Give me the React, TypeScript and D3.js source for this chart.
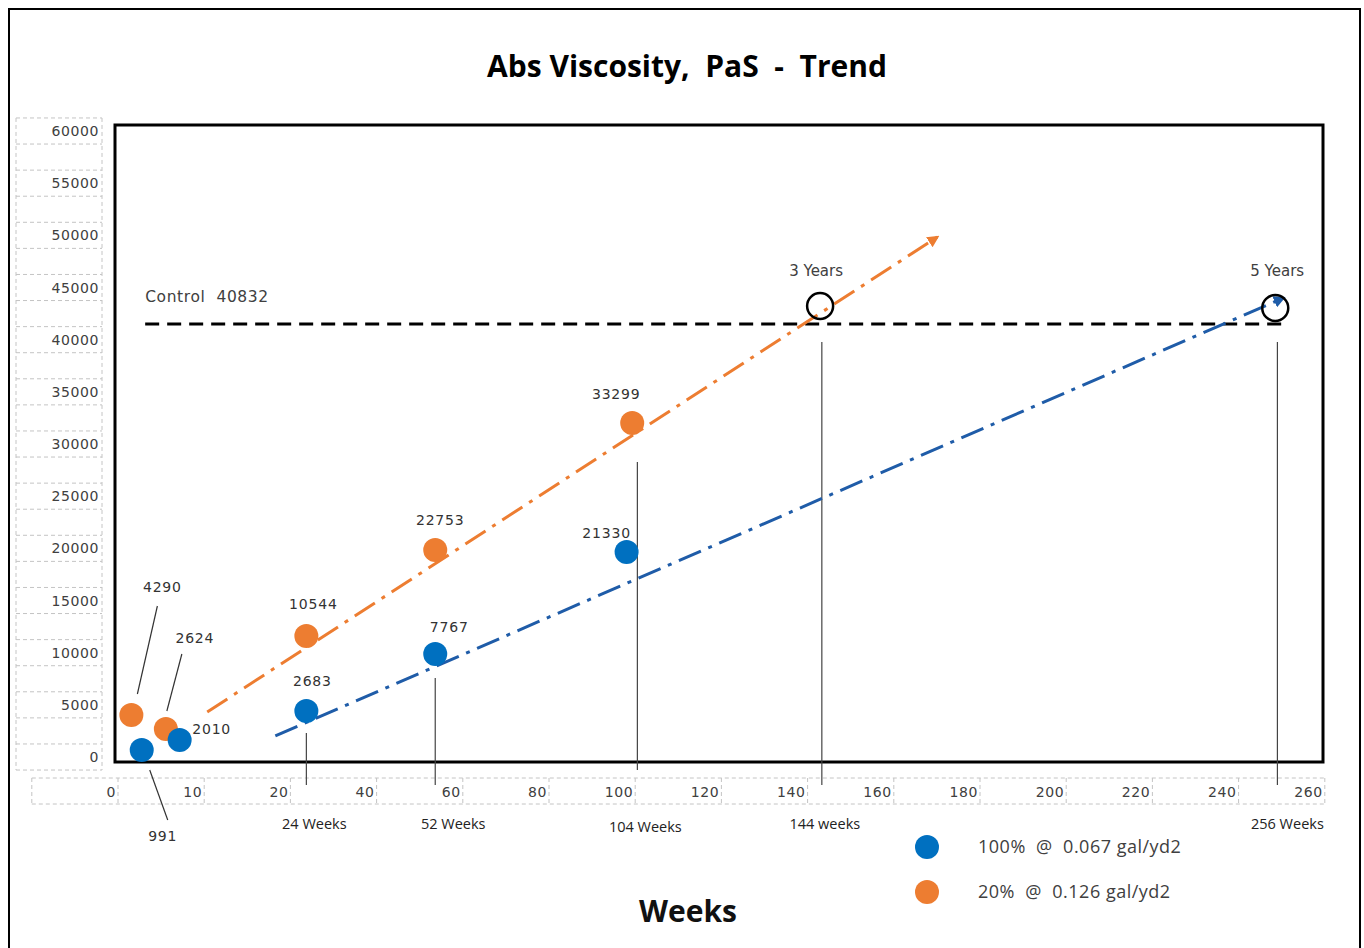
import React from "react";
import * as d3 from "d3";

// ---- data ----
const xTicks = [0, 10, 20, 40, 60, 80, 100, 120, 140, 160, 180, 200, 220, 240, 260];
const yTicks = [0, 5000, 10000, 15000, 20000, 25000, 30000, 35000, 40000, 45000, 50000, 55000, 60000];

// series 1: 100% @ 0.067 gal/yd2 (blue)
const blueWeeks = [3.1, 7.5, 24.4, 54.3, 98.7];
const blueValues = [1028, 1962, 4672, 9998, 19529];
const blueLabels = ["991", "2010", "2683", "7767", "21330"];

// series 2: 20% @ 0.126 gal/yd2 (orange)
const orangeWeeks = [1.9, 5.9, 24.4, 54.3, 100];
const orangeValues = [4298, 2990, 11680, 19716, 31583];
const orangeLabels = ["4290", "2624", "10544", "22753", "33299"];

// trend lines [week, value]
const orangeTrend: [number, number][] = [[10.7, 4579], [170.8, 48963]];
const blueTrend: [number, number][] = [[18.6, 2336], [251.1, 43263]];

const controlValue = 40832;
const controlRange = [3.5, 251.5];

// time markers
const markerWeeks = [24.4, 54.3, 101.2, 144, 249.7];
const markerTops = [2616, 7756, 27939, 39152, 39152];
const markerLabels = ["24 Weeks", "52 Weeks", "104 Weeks", "144 weeks", "256 Weeks"];

// intercept circles
const yearWeeks = [143.6, 249.2];
const yearValues = [42515, 42329];
const yearLabels = ["3 Years", "5 Years"];

// ---- layout ----
const W = 1364, H = 948;
const BLUE = "#0070C0", ORANGE = "#ED7D31", BLUE_LINE = "#1F5CA8";
const GREY_TXT = "#404040", DASH_GREY = "#c4c4c4";
const SMALL = "'DejaVu Sans', Verdana, sans-serif";
const CAL = "'Open Sans', 'Noto Sans', sans-serif";

const x = d3.scaleLinear().domain(xTicks).range(xTicks.map((_, i) => 115 + i * 86.2));
const y = d3.scaleLinear().domain([0, 40832]).range([761, 324]);
const yLab = d3.scaleLinear().domain([0, 60000]).range([757, 131]);

// label offsets [dx, dy] from point centre to label centre
const blueOff: [number, number][] = [[21, 86], [32, -11], [6, -30], [14, -27], [-20, -19]];
const orangeOff: [number, number][] = [[31, -128], [29, -91], [7, -32], [5, -30], [-16, -29]];
const markerLabelDx = [8, 18, 8, 3, 10];

export default function App() {
  const plotL = 115, plotR = 1323, plotT = 125, plotB = 762;
  const cellH = (yLab(0) - yLab(5000)) / 2;
  const yLines = d3.range(yTicks.length * 2).map((i) => yLab(60000) - cellH / 2 + i * cellH);
  const cellW = x(10) - x(0);
  const xCellEdges = d3.range(xTicks.length + 1).map((i) => x(0) + 3 - cellW + i * cellW);
  const line = d3.line<[number, number]>().x((d) => x(d[0])).y((d) => y(d[1]));

  return (
    <svg width={W} height={H} style={{ position: "absolute", left: 0, top: 0, background: "#fff" }}>
      <defs>
        <marker id="arrO" viewBox="0 0 10 10" refX="8" refY="5" markerWidth="4" markerHeight="4" orient="auto">
          <path d="M0,0 L10,5 L0,10 z" fill={ORANGE} />
        </marker>
        <marker id="arrB" viewBox="0 0 10 10" refX="8" refY="5" markerWidth="4" markerHeight="4" orient="auto">
          <path d="M0,0 L10,5 L0,10 z" fill={BLUE_LINE} />
        </marker>
      </defs>
      <rect x={9} y={9} width={1351} height={H} fill="none" stroke="#000" strokeWidth={2} />

      <text x={687} y={77} textAnchor="middle" fontFamily={CAL} fontWeight={700} fontSize={30} style={{ whiteSpace: "pre" }}>
        {"Abs Viscosity,  PaS  -  Trend"}
      </text>

      {/* y label column */}
      <g stroke={DASH_GREY} strokeDasharray="4 3" strokeWidth={1}>
        <line x1={16} x2={16} y1={yLines[0]} y2={yLines[yLines.length - 1]} />
        <line x1={102} x2={102} y1={yLines[0]} y2={yLines[yLines.length - 1]} />
        {yLines.map((yy, i) => (
          <line key={i} x1={16} x2={102} y1={yy} y2={yy} />
        ))}
      </g>
      {yTicks.map((t) => (
        <text key={t} x={99} y={yLab(t) + 5} textAnchor="end" fontFamily={SMALL} fontSize={14} fill={GREY_TXT} letterSpacing={0.6}>
          {t}
        </text>
      ))}

      {/* x label row */}
      <g stroke={DASH_GREY} strokeDasharray="4 3" strokeWidth={1}>
        <line x1={xCellEdges[0]} x2={xCellEdges[xCellEdges.length - 1]} y1={778} y2={778} />
        <line x1={xCellEdges[0]} x2={xCellEdges[xCellEdges.length - 1]} y1={804} y2={804} />
        {xCellEdges.map((xx, i) => (
          <line key={i} x1={xx} x2={xx} y1={778} y2={804} />
        ))}
      </g>
      {xTicks.map((t) => (
        <text key={t} x={x(t) + 1} y={797} textAnchor="end" fontFamily={SMALL} fontSize={14} fill={GREY_TXT} letterSpacing={0.6}>
          {t}
        </text>
      ))}

      {/* plot frame */}
      <rect x={plotL} y={plotT} width={plotR - plotL} height={plotB - plotT} fill="none" stroke="#000" strokeWidth={3} />

      {/* control line */}
      <line x1={x(controlRange[0])} x2={x(controlRange[1])} y1={y(controlValue)} y2={y(controlValue)} stroke="#000" strokeWidth={3} strokeDasharray="14 8" />
      <text x={x(controlRange[0])} y={302} fontFamily={SMALL} fontSize={15.5} fill={GREY_TXT} letterSpacing={0.6} style={{ whiteSpace: "pre" }}>
        {"Control  " + controlValue}
      </text>

      {/* marker lines */}
      {markerWeeks.map((w, i) => (
        <g key={i}>
          <line x1={x(w)} x2={x(w)} y1={y(markerTops[i])} y2={i === 2 ? 770 : 785} stroke="#444" strokeWidth={1.2} />
          <text x={x(w) + markerLabelDx[i]} y={829 + (i === 2 ? 3 : 0)} textAnchor="middle" fontFamily={CAL} fontSize={14.5} fill="#222">
            {markerLabels[i]}
          </text>
        </g>
      ))}

      {/* trend lines */}
      <path d={line(orangeTrend) || ""} fill="none" stroke={ORANGE} strokeWidth={3} strokeDasharray="24 8 4 8" markerEnd="url(#arrO)" />
      <path d={line(blueTrend) || ""} fill="none" stroke={BLUE_LINE} strokeWidth={3} strokeDasharray="24 8 4 8" markerEnd="url(#arrB)" />

      {/* year circles */}
      {yearWeeks.map((w, i) => (
        <g key={i}>
          <circle cx={x(w)} cy={y(yearValues[i])} r={13} fill="none" stroke="#000" strokeWidth={2.5} />
          <text x={x(w) - 4 + i * 6} y={276} textAnchor="middle" fontFamily={SMALL} fontSize={15} fill={GREY_TXT}>
            {yearLabels[i]}
          </text>
        </g>
      ))}

      {/* leader lines */}
      <line x1={x(blueWeeks[0]) + 8} y1={y(blueValues[0]) + 20} x2={x(blueWeeks[0]) + 26} y2={y(blueValues[0]) + 70} stroke="#333" strokeWidth={1.2} />
      <line x1={x(orangeWeeks[0]) + 6} y1={y(orangeValues[0]) - 21} x2={x(orangeWeeks[0]) + 26} y2={y(orangeValues[0]) - 109} stroke="#333" strokeWidth={1.2} />
      <line x1={x(orangeWeeks[1]) + 1} y1={y(orangeValues[1]) - 18} x2={x(orangeWeeks[1]) + 16} y2={y(orangeValues[1]) - 75} stroke="#333" strokeWidth={1.2} />

      {/* points */}
      {orangeWeeks.map((w, i) => (
        <circle key={"o" + i} cx={x(w)} cy={y(orangeValues[i])} r={12} fill={ORANGE} />
      ))}
      {blueWeeks.map((w, i) => (
        <circle key={"b" + i} cx={x(w)} cy={y(blueValues[i])} r={12} fill={BLUE} />
      ))}

      {/* data labels */}
      {blueLabels.map((l, i) => (
        <text key={"bl" + i} x={x(blueWeeks[i]) + blueOff[i][0]} y={y(blueValues[i]) + blueOff[i][1] + 5} textAnchor="middle" fontFamily={SMALL} fontSize={14} fill="#333" letterSpacing={0.8}>
          {l}
        </text>
      ))}
      {orangeLabels.map((l, i) => (
        <text key={"ol" + i} x={x(orangeWeeks[i]) + orangeOff[i][0]} y={y(orangeValues[i]) + orangeOff[i][1] + 5} textAnchor="middle" fontFamily={SMALL} fontSize={14} fill="#333" letterSpacing={0.8}>
          {l}
        </text>
      ))}

      {/* legend */}
      <circle cx={927} cy={847} r={12} fill={BLUE} />
      <text x={978} y={853} fontFamily={CAL} fontSize={18} fill={GREY_TXT} letterSpacing={0.5} style={{ whiteSpace: "pre" }}>
        {"100%  @  0.067 gal/yd2"}
      </text>
      <circle cx={927} cy={892} r={12} fill={ORANGE} />
      <text x={978} y={898} fontFamily={CAL} fontSize={18} fill={GREY_TXT} letterSpacing={0.5} style={{ whiteSpace: "pre" }}>
        {"20%  @  0.126 gal/yd2"}
      </text>

      <text x={688} y={922} textAnchor="middle" fontFamily={CAL} fontWeight={700} fontSize={30} fill="#111">
        Weeks
      </text>
    </svg>
  );
}
